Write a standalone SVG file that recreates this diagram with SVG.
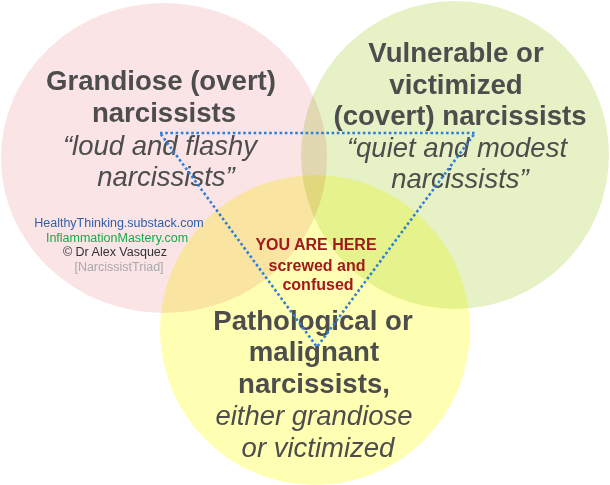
<svg xmlns="http://www.w3.org/2000/svg" width="610" height="485" viewBox="0 0 610 485">
<style>
.c{mix-blend-mode:multiply}
.h{font-family:"Liberation Sans",Arial,sans-serif;font-weight:bold;font-size:27.6px;fill:#4d4d4d;text-anchor:middle}
.i{font-family:"Liberation Sans",Arial,sans-serif;font-style:italic;font-size:27.5px;fill:#4d4d4d;text-anchor:middle}
.r{font-family:"Liberation Sans",Arial,sans-serif;font-weight:bold;font-size:16px;fill:#a3181c;text-anchor:middle}
.s{font-family:"Liberation Sans",Arial,sans-serif;font-size:12.5px;text-anchor:middle}
.tri{fill:none;stroke:#2f7fd9;stroke-width:2.6;stroke-dasharray:2.6 2.6}
</style>
<rect width="610" height="485" fill="#ffffff"/>
<g id="bg" style="isolation:isolate">
<ellipse class="c" cx="164" cy="158" rx="163" ry="155" fill="#fae4e6"/>
<circle class="c" cx="455" cy="155" r="154" fill="#e6f2c6"/>
<circle class="c" cx="315" cy="330" r="155" fill="#ffffb4"/>
</g>
<g id="grandiose">
<text class="h" x="161" y="90">Grandiose (overt)</text>
<text class="h" x="164" y="122">narcissists</text>
<text class="i" x="160" y="155">“loud and flashy</text>
<text class="i" x="166" y="186">narcissists”</text>
</g>
<g id="vulnerable">
<text class="h" x="456" y="62">Vulnerable or</text>
<text class="h" x="456" y="94">victimized</text>
<text class="h" x="460" y="125">(covert) narcissists</text>
<text class="i" x="457" y="157">“quiet and modest</text>
<text class="i" x="460" y="188">narcissists”</text>
</g>
<g id="pathological">
<text class="h" x="313" y="330">Pathological or</text>
<text class="h" x="314" y="361">malignant</text>
<text class="h" x="314" y="393">narcissists,</text>
<text class="i" x="314" y="425">either grandiose</text>
<text class="i" x="318" y="457">or victimized</text>
</g>
<g id="you-are-here">
<text class="r" x="316" y="250">YOU ARE HERE</text>
<text class="r" x="317" y="271">screwed and</text>
<text class="r" x="318" y="290">confused</text>
</g>
<g id="credits">
<text class="s" x="119" y="227" fill="#2e5fa8">HealthyThinking.substack.com</text>
<text class="s" x="117" y="242" fill="#1aa84a">InflammationMastery.com</text>
<text class="s" x="115" y="256" fill="#333333">© Dr Alex Vasquez</text>
<text class="s" x="119" y="271" fill="#aaaaaa">[NarcissistTriad]</text>
</g>
<g id="connectors">
<polygon class="tri" points="160,133 475,133 317,347"/>
</g>
</svg>
